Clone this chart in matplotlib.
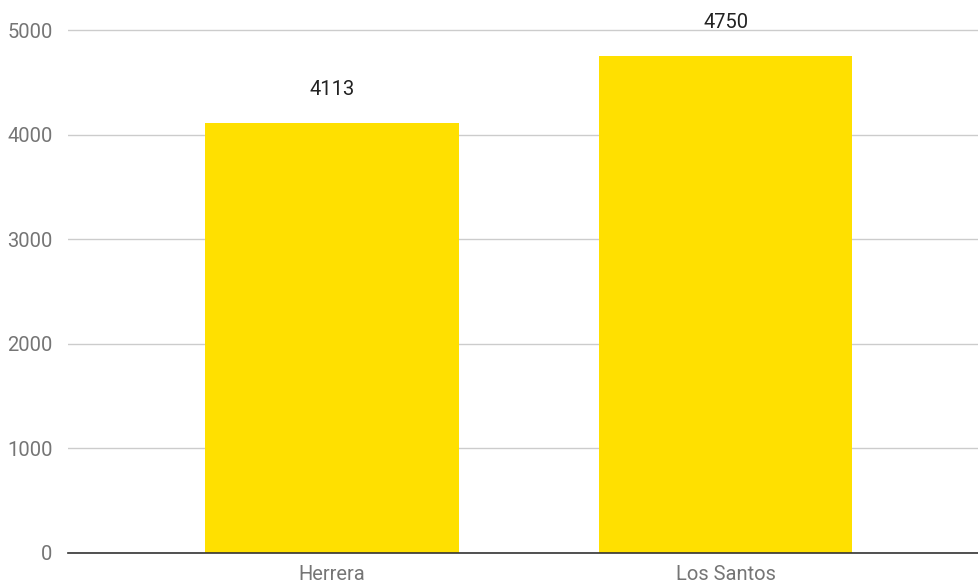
import matplotlib
matplotlib.use('Agg')
import matplotlib.pyplot as plt

# datos
regiones = ['Herrera', 'Los Santos']
valores = [4113, 4750]
yticks = [0, 1000, 2000, 3000, 4000, 5000]

plt.rcParams['font.family'] = ['Roboto', 'DejaVu Sans']

fig = plt.figure(figsize=(9.79, 5.86), dpi=100)
ax = fig.add_axes([68/979, 33/586, 1 - 68/979, 1 - 33/586])

x = range(len(regiones))
ax.bar(x, valores, width=0.645, color='#FFE000', zorder=2)

# etiquetas de valor sobre cada barra
for xi, v in zip(x, valores):
    ax.annotate(str(v), (xi, v), xytext=(0, 24), textcoords='offset pixels',
                ha='center', va='bottom', fontsize=14.5, color='#222222')

ax.set_xlim(-0.671, 1.644)
ax.set_ylim(0, 5287)
ax.set_yticks(yticks)
ax.set_yticklabels([str(t) for t in yticks])
ax.set_xticks(list(x))
ax.set_xticklabels(regiones)
ax.tick_params(axis='both', length=0, labelsize=14.5, colors='#757575')
ax.tick_params(axis='y', pad=11)
ax.tick_params(axis='x', pad=9)

ax.grid(axis='y', color='#CCCCCC', linewidth=1, zorder=0)
for s in ['top', 'right', 'left']:
    ax.spines[s].set_visible(False)
ax.spines['bottom'].set_color('#333333')
ax.spines['bottom'].set_linewidth(1.2)
ax.spines['bottom'].set_zorder(3)

plt.savefig('out.png', dpi=100)
